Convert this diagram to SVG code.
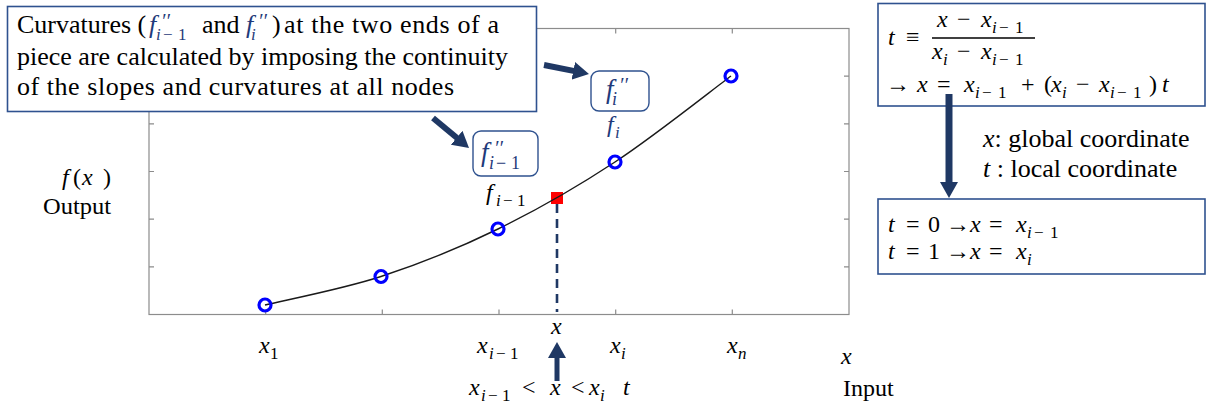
<svg xmlns="http://www.w3.org/2000/svg" width="1212" height="407" viewBox="0 0 1212 407">
<defs>
<marker id="ah" markerUnits="userSpaceOnUse" markerWidth="18" markerHeight="18" refX="4" refY="9" orient="auto">
<path d="M0,0 L16,9 L0,18 z" fill="#1F3864"/>
</marker>
</defs>

<g id="plot">
<rect x="149" y="28.5" width="700" height="286" fill="none" stroke="#8C8C8C" stroke-width="1.2"/>
<path stroke="#8C8C8C" stroke-width="1.2" d="M265.7,314.5v-5M382.3,314.5v-5M499,314.5v-5M615.7,314.5v-5M732.3,314.5v-5M265.7,28.5v5M382.3,28.5v5M499,28.5v5M615.7,28.5v5M732.3,28.5v5M149,76.2h5M149,123.8h5M149,171.5h5M149,219.2h5M149,266.8h5M849,76.2h-5M849,123.8h-5M849,171.5h-5M849,219.2h-5M849,266.8h-5"/>
<rect x="551" y="192" width="12" height="12" fill="#FF0000"/>
<path d="M265,305 C284.3,300.25 342.2,289.2 381,276.5 C419.8,263.8 459,248.1 498,229 C537,209.9 576.2,187.5 615,162 C653.8,136.5 711.7,90.3 731,76" fill="none" stroke="#1a1a1a" stroke-width="1.4"/>
<g fill="none" stroke="#0000FF" stroke-width="3.2">
<circle cx="265" cy="305" r="6"/>
<circle cx="381" cy="276.5" r="6"/>
<circle cx="498" cy="229" r="6"/>
<circle cx="615" cy="162" r="6"/>
<circle cx="731" cy="76" r="6"/>
</g>
<line x1="557" y1="204" x2="557" y2="312" stroke="#1F3864" stroke-width="2.6" stroke-dasharray="9 6"/>
</g>

<g id="axis-labels">
<text style="font-family:'Liberation Serif',serif !important" font-size="24"><tspan style="font-family:'Liberation Serif',serif !important" font-style="italic" x="62" y="185">f</tspan><tspan style="font-family:'Liberation Serif',serif !important" x="73" y="185">(</tspan><tspan style="font-family:'Liberation Serif',serif !important" font-style="italic" x="82" y="185">x</tspan><tspan style="font-family:'Liberation Serif',serif !important" x="103" y="185">)</tspan></text>
<text style="font-family:'Liberation Serif',serif !important" font-size="24" x="43" y="214" textLength="68" lengthAdjust="spacingAndGlyphs">Output</text>
<text style="font-family:'Liberation Serif',serif !important" font-size="24"><tspan style="font-family:'Liberation Serif',serif !important" font-style="italic" x="259" y="353">x</tspan><tspan style="font-family:'Liberation Serif',serif !important" font-size="17" x="270" y="359">1</tspan></text>
<text style="font-family:'Liberation Serif',serif !important" font-size="24"><tspan style="font-family:'Liberation Serif',serif !important" font-style="italic" x="477" y="353">x</tspan><tspan style="font-family:'Liberation Serif',serif !important" font-size="17" font-style="italic" x="489" y="359">i</tspan><tspan style="font-family:'Liberation Serif',serif !important" font-size="17" x="496" y="359">&#x2212;</tspan><tspan style="font-family:'Liberation Serif',serif !important" font-size="17" x="510" y="359">1</tspan></text>
<text style="font-family:'Liberation Serif',serif !important" font-size="24" font-style="italic" x="551" y="334">x</text>
<text style="font-family:'Liberation Serif',serif !important" font-size="24"><tspan style="font-family:'Liberation Serif',serif !important" font-style="italic" x="610" y="353">x</tspan><tspan style="font-family:'Liberation Serif',serif !important" font-size="17" font-style="italic" x="621" y="359">i</tspan></text>
<text style="font-family:'Liberation Serif',serif !important" font-size="24"><tspan style="font-family:'Liberation Serif',serif !important" font-style="italic" x="727" y="353">x</tspan><tspan style="font-family:'Liberation Serif',serif !important" font-size="17" font-style="italic" x="738" y="359">n</tspan></text>
<text style="font-family:'Liberation Serif',serif !important" font-size="24" font-style="italic" x="841" y="364">x</text>
<text style="font-family:'Liberation Serif',serif !important" font-size="24" x="843" y="396">Input</text>
<text style="font-family:'Liberation Serif',serif !important" font-size="24"><tspan style="font-family:'Liberation Serif',serif !important" font-style="italic" x="469" y="395">x</tspan><tspan style="font-family:'Liberation Serif',serif !important" font-size="17" font-style="italic" x="481" y="401">i</tspan><tspan style="font-family:'Liberation Serif',serif !important" font-size="17" x="488" y="401">&#x2212;</tspan><tspan style="font-family:'Liberation Serif',serif !important" font-size="17" x="502" y="401">1</tspan><tspan style="font-family:'Liberation Serif',serif !important" x="522" y="395">&lt;</tspan><tspan style="font-family:'Liberation Serif',serif !important" font-style="italic" x="550" y="395">x</tspan><tspan style="font-family:'Liberation Serif',serif !important" x="571" y="395">&lt;</tspan><tspan style="font-family:'Liberation Serif',serif !important" font-style="italic" x="589" y="395">x</tspan><tspan style="font-family:'Liberation Serif',serif !important" font-size="17" font-style="italic" x="600" y="401">i</tspan><tspan style="font-family:'Liberation Serif',serif !important" font-style="italic" x="623" y="395">t</tspan></text>
<text style="font-family:'Liberation Serif',serif !important" font-size="24" fill="#1F3A7A"><tspan style="font-family:'Liberation Serif',serif !important" font-style="italic" x="607" y="132">f</tspan><tspan style="font-family:'Liberation Serif',serif !important" font-size="17" font-style="italic" x="615" y="138">i</tspan></text>
<text style="font-family:'Liberation Serif',serif !important" font-size="24"><tspan style="font-family:'Liberation Serif',serif !important" font-style="italic" x="486" y="200">f</tspan><tspan style="font-family:'Liberation Serif',serif !important" font-size="17" font-style="italic" x="496" y="206">i</tspan><tspan style="font-family:'Liberation Serif',serif !important" font-size="17" x="503" y="206">&#x2212;</tspan><tspan style="font-family:'Liberation Serif',serif !important" font-size="17" x="517" y="206">1</tspan></text>
</g>

<g id="callout">
<rect x="7.5" y="6.5" width="529" height="105" fill="#fff" stroke="#2F528F" stroke-width="1.6"/>
<text style="font-family:'Liberation Serif',serif !important" font-size="26" x="17" y="33">Curvatures (</text>
<text style="font-family:'Liberation Serif',serif !important" font-size="26" font-style="italic" fill="#1F3A7A" x="149" y="33">f</text>
<text style="font-family:'Liberation Serif',serif !important" font-size="20" font-style="italic" fill="#1F3A7A" x="161" y="28">&#x2032;&#x2032;</text>
<text style="font-family:'Liberation Serif',serif !important" font-size="17" fill="#1F3A7A"><tspan style="font-family:'Liberation Serif',serif !important" font-style="italic" x="156" y="40">i</tspan><tspan style="font-family:'Liberation Serif',serif !important" x="163" y="40">&#x2212;</tspan><tspan style="font-family:'Liberation Serif',serif !important" x="178" y="40">1</tspan></text>
<text style="font-family:'Liberation Serif',serif !important" font-size="26" x="202" y="33">and</text>
<text style="font-family:'Liberation Serif',serif !important" font-size="26" font-style="italic" fill="#1F3A7A" x="246" y="33">f</text>
<text style="font-family:'Liberation Serif',serif !important" font-size="20" font-style="italic" fill="#1F3A7A" x="258" y="28">&#x2032;&#x2032;</text>
<text style="font-family:'Liberation Serif',serif !important" font-size="17" font-style="italic" fill="#1F3A7A" x="251" y="40">i</text>
<text style="font-family:'Liberation Serif',serif !important" font-size="26" x="272" y="33">)</text>
<text style="font-family:'Liberation Serif',serif !important" font-size="26" x="284" y="33" textLength="215" lengthAdjust="spacing">at the two ends of a</text>
<text style="font-family:'Liberation Serif',serif !important" font-size="26" x="17" y="65" textLength="491" lengthAdjust="spacing">piece are calculated by imposing the continuity</text>
<text style="font-family:'Liberation Serif',serif !important" font-size="26" x="17" y="95" textLength="437" lengthAdjust="spacing">of the slopes and curvatures at all nodes</text>
</g>

<g id="fpp-im1">
<rect x="473" y="131" width="65" height="45" rx="8" fill="#fff" stroke="#2F528F" stroke-width="1.4"/>
<text style="font-family:'Liberation Serif',serif !important" font-size="27" font-style="italic" fill="#1F3A7A" x="481" y="161">f</text>
<text style="font-family:'Liberation Serif',serif !important" font-size="20" font-style="italic" fill="#1F3A7A" x="494" y="155">&#x2032;&#x2032;</text>
<text style="font-family:'Liberation Serif',serif !important" font-size="18" fill="#1F3A7A"><tspan style="font-family:'Liberation Serif',serif !important" font-style="italic" x="489" y="169">i</tspan><tspan style="font-family:'Liberation Serif',serif !important" x="496" y="169">&#x2212;</tspan><tspan style="font-family:'Liberation Serif',serif !important" x="511" y="169">1</tspan></text>
</g>

<g id="fpp-i">
<rect x="591" y="71" width="58" height="40" rx="8" fill="#fff" stroke="#2F528F" stroke-width="1.4"/>
<text style="font-family:'Liberation Serif',serif !important" font-size="27" font-style="italic" fill="#1F3A7A" x="606" y="98">f</text>
<text style="font-family:'Liberation Serif',serif !important" font-size="20" font-style="italic" fill="#1F3A7A" x="619" y="92">&#x2032;&#x2032;</text>
<text style="font-family:'Liberation Serif',serif !important" font-size="18" font-style="italic" fill="#1F3A7A" x="612" y="105">i</text>
</g>

<g id="tdef">
<rect x="878" y="3.5" width="327" height="102.5" fill="#fff" stroke="#2F528F" stroke-width="1.6"/>
<text style="font-family:'Liberation Serif',serif !important" font-size="24"><tspan style="font-family:'Liberation Serif',serif !important" font-style="italic" x="888" y="45">t</tspan><tspan style="font-family:'Liberation Serif',serif !important" x="906" y="45">&#x2261;</tspan></text>
<line x1="932" y1="38" x2="1035" y2="38" stroke="#000" stroke-width="1.3"/>
<text style="font-family:'Liberation Serif',serif !important" font-size="24"><tspan style="font-family:'Liberation Serif',serif !important" font-style="italic" x="937" y="27">x</tspan><tspan style="font-family:'Liberation Serif',serif !important" x="957" y="27">&#x2212;</tspan><tspan style="font-family:'Liberation Serif',serif !important" font-style="italic" x="981" y="27">x</tspan><tspan style="font-family:'Liberation Serif',serif !important" font-size="17" font-style="italic" x="992" y="33">i</tspan><tspan style="font-family:'Liberation Serif',serif !important" font-size="17" x="999" y="33">&#x2212;</tspan><tspan style="font-family:'Liberation Serif',serif !important" font-size="17" x="1015" y="33">1</tspan></text>
<text style="font-family:'Liberation Serif',serif !important" font-size="24"><tspan style="font-family:'Liberation Serif',serif !important" font-style="italic" x="932" y="59">x</tspan><tspan style="font-family:'Liberation Serif',serif !important" font-size="17" font-style="italic" x="943" y="65">i</tspan><tspan style="font-family:'Liberation Serif',serif !important" x="957" y="59">&#x2212;</tspan><tspan style="font-family:'Liberation Serif',serif !important" font-style="italic" x="981" y="59">x</tspan><tspan style="font-family:'Liberation Serif',serif !important" font-size="17" font-style="italic" x="992" y="65">i</tspan><tspan style="font-family:'Liberation Serif',serif !important" font-size="17" x="999" y="65">&#x2212;</tspan><tspan style="font-family:'Liberation Serif',serif !important" font-size="17" x="1015" y="65">1</tspan></text>
<text style="font-family:'Liberation Serif',serif !important" font-size="24"><tspan style="font-family:'Liberation Serif',serif !important" x="886" y="92">&#x2192;</tspan><tspan style="font-family:'Liberation Serif',serif !important" font-style="italic" x="917" y="92">x</tspan><tspan style="font-family:'Liberation Serif',serif !important" x="937" y="92">=</tspan><tspan style="font-family:'Liberation Serif',serif !important" font-style="italic" x="964" y="92">x</tspan><tspan style="font-family:'Liberation Serif',serif !important" font-size="17" font-style="italic" x="975" y="98">i</tspan><tspan style="font-family:'Liberation Serif',serif !important" font-size="17" x="982" y="98">&#x2212;</tspan><tspan style="font-family:'Liberation Serif',serif !important" font-size="17" x="998" y="98">1</tspan><tspan style="font-family:'Liberation Serif',serif !important" x="1021" y="92">+</tspan><tspan style="font-family:'Liberation Serif',serif !important" x="1044" y="92">(</tspan><tspan style="font-family:'Liberation Serif',serif !important" font-style="italic" x="1051" y="92">x</tspan><tspan style="font-family:'Liberation Serif',serif !important" font-size="17" font-style="italic" x="1062" y="98">i</tspan><tspan style="font-family:'Liberation Serif',serif !important" x="1076" y="92">&#x2212;</tspan><tspan style="font-family:'Liberation Serif',serif !important" font-style="italic" x="1099" y="92">x</tspan><tspan style="font-family:'Liberation Serif',serif !important" font-size="17" font-style="italic" x="1110" y="98">i</tspan><tspan style="font-family:'Liberation Serif',serif !important" font-size="17" x="1117" y="98">&#x2212;</tspan><tspan style="font-family:'Liberation Serif',serif !important" font-size="17" x="1133" y="98">1</tspan><tspan style="font-family:'Liberation Serif',serif !important" x="1149" y="92">)</tspan><tspan style="font-family:'Liberation Serif',serif !important" font-style="italic" x="1162" y="92">t</tspan></text>
</g>

<g id="coord-notes">
<text style="font-family:'Liberation Serif',serif !important" font-size="26"><tspan style="font-family:'Liberation Serif',serif !important" font-style="italic" x="983" y="147">x</tspan><tspan style="font-family:'Liberation Serif',serif !important">: global coordinate</tspan></text>
<text style="font-family:'Liberation Serif',serif !important" font-size="26"><tspan style="font-family:'Liberation Serif',serif !important" font-style="italic" x="983" y="177">t</tspan><tspan style="font-family:'Liberation Serif',serif !important"> : local coordinate</tspan></text>
</g>

<g id="tvals">
<rect x="878" y="199" width="327" height="75" fill="#fff" stroke="#2F528F" stroke-width="1.6"/>
<text style="font-family:'Liberation Serif',serif !important" font-size="24"><tspan style="font-family:'Liberation Serif',serif !important" font-style="italic" x="888" y="232">t</tspan><tspan style="font-family:'Liberation Serif',serif !important" x="906" y="232">=</tspan><tspan style="font-family:'Liberation Serif',serif !important" x="928" y="232">0</tspan><tspan style="font-family:'Liberation Serif',serif !important" x="946" y="232">&#x2192;</tspan><tspan style="font-family:'Liberation Serif',serif !important" font-style="italic" x="970" y="232">x</tspan><tspan style="font-family:'Liberation Serif',serif !important" x="989" y="232">=</tspan><tspan style="font-family:'Liberation Serif',serif !important" font-style="italic" x="1016" y="232">x</tspan><tspan style="font-family:'Liberation Serif',serif !important" font-size="17" font-style="italic" x="1027" y="238">i</tspan><tspan style="font-family:'Liberation Serif',serif !important" font-size="17" x="1034" y="238">&#x2212;</tspan><tspan style="font-family:'Liberation Serif',serif !important" font-size="17" x="1050" y="238">1</tspan></text>
<text style="font-family:'Liberation Serif',serif !important" font-size="24"><tspan style="font-family:'Liberation Serif',serif !important" font-style="italic" x="888" y="259">t</tspan><tspan style="font-family:'Liberation Serif',serif !important" x="906" y="259">=</tspan><tspan style="font-family:'Liberation Serif',serif !important" x="928" y="259">1</tspan><tspan style="font-family:'Liberation Serif',serif !important" x="946" y="259">&#x2192;</tspan><tspan style="font-family:'Liberation Serif',serif !important" font-style="italic" x="970" y="259">x</tspan><tspan style="font-family:'Liberation Serif',serif !important" x="989" y="259">=</tspan><tspan style="font-family:'Liberation Serif',serif !important" font-style="italic" x="1016" y="259">x</tspan><tspan style="font-family:'Liberation Serif',serif !important" font-size="17" font-style="italic" x="1027" y="265">i</tspan></text>
</g>

<g id="connectors" stroke="#1F3864" fill="none">
<line x1="433" y1="118" x2="459.8" y2="140.3" stroke-width="6" marker-end="url(#ah)"/>
<line x1="544" y1="65" x2="577.2" y2="71.6" stroke-width="6" marker-end="url(#ah)"/>
<line x1="949" y1="94" x2="949" y2="186" stroke-width="7" marker-end="url(#ah)"/>
<line x1="557" y1="381" x2="557" y2="354" stroke-width="5" marker-end="url(#ah)"/>
</g>
</svg>
